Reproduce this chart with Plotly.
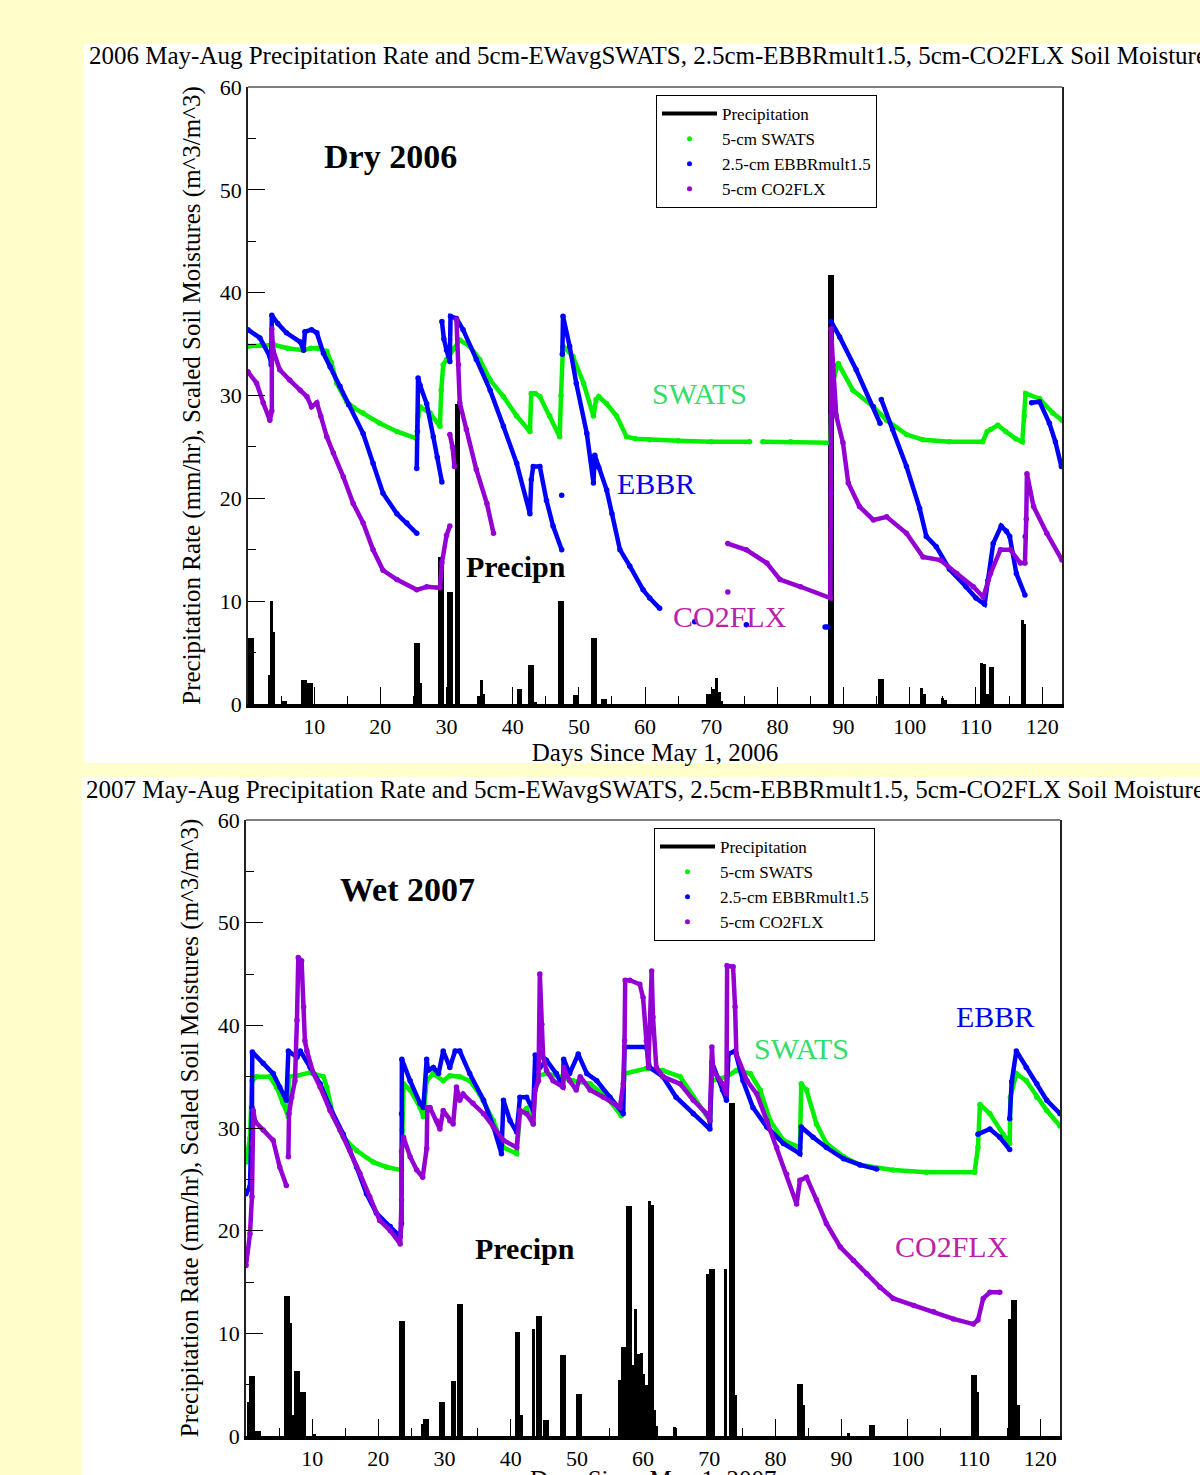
import plotly.graph_objects as go

FONT = "Liberation Serif"
YELLOW = "#FFFFCC"
GREEN = "#00F000"
BLUE = "#0000FF"
PURPLE = "#9400D3"
N = None

# ---------------- 2006 ----------------
sw06_day = [0, 2, 4, 6, 8.4, 9.5, 10.4, 11.9, 12.6, 13.4, 14.9, 16, 17.4, 19.9, 22.5, 25.5,
            25.7, 26.0, 27.5, 29.0, 29.2, 29.5, 30.0, 31, 32, 33.5, 35, 36.6, 38.6, 40.6, 42.6,
            42.8, 43.4, 44.1, 45.6, 47.1, 47.3, 47.6, 49.1, 50.7, 52.2, 52.6, 53, 54.2, 55.7,
            57.2, 58.5, 60.7, 65, 70, 75.8, N, 77.8, 82, 88, 88.2, 88.6, 89.2, 91.4, 94.5, 96.5,
            99.5, 102, 106, 111, 111.7, 112.2, 113.3, 114.5, 116, 117, 117.3, 117.5, 119.6,
            121.6, 123]
sw06_val = [34.8, 34.9, 34.9, 34.6, 34.4, 34.6, 34.6, 34.3, 33.2, 31.2, 29.4, 28.8, 28.3, 27.3,
            26.5, 25.8, 28.0, 28.9, 28.3, 27.0, 30.5, 33.0, 33.5, 34.5, 35.4, 34.8, 33.5, 31.5,
            29.9, 28.0, 26.5, 30.2, 30.2, 29.9, 28.0, 26.0, 30.0, 34.8, 33.8, 31.2, 28.0, 29.6,
            29.9, 29.2, 28.0, 26.0, 25.8, 25.7, 25.6, 25.5, 25.5, N, 25.5, 25.5, 25.4, 30.0, 32.0,
            33.1, 30.5, 28.9, 27.6, 26.2, 25.7, 25.5, 25.5, 26.5, 26.7, 27.1, 26.5, 25.8, 25.5,
            28.0, 30.2, 29.7, 28.3, 27.6]

eb06_day = [0, 1.8, 3.3, 3.5, 3.6, 4.5, 5.8, 7.9, 8.4, 8.6, 9.6, 10.4, 11.4, 12.4, 13.9, 15.2,
            17.4, 18.9, 20.4, 22.5, 24, 25.5, N, 25.5, 25.6, 25.7, 26, 27, 28, 28.6, 29.3, N,
            29.3, 29.6, 30, 30.5, 30.6, 31.5, 32.5, 34.5, 36.6, 38.6, 40.6, 42.6, 42.8, 43.1,
            44.1, 45.1, 46.1, 47.4, N, 47.4, N, 47.5, 47.6, 48.6, 49.6, 51.2, 52.2, 52.4, 53,
            54.2, 55, 56.2, 57.7, 59.7, 60.7, 62.2, N, 67.5, N, 75.3, N, 87.2, 87.6, N, 88.1, N,
            88.1, 89.4, 91.9, 94.5, 95.5, N, 95.7, 97.4, 99.5, 101.5, 102.5, 104, 106, 108.5,
            110, 111.3, 111.8, 112.6, 113.8, 114.6, 115.1, 116.1, 117.4, N, 117.45, N, 118.4,
            119.6, 121.1, 122, 122.9]
eb06_val = [36.4, 35.6, 33.8, 33.0, 37.8, 37.0, 36.1, 35.2, 34.4, 36.2, 36.4, 36.1, 34.1, 32.8,
            30.9, 29.1, 26.3, 23.4, 20.5, 18.5, 17.6, 16.6, N, 22.9, 26.5, 31.7, 31.0, 29.2, 26.0,
            24.0, 21.6, N, 37.2, 35.5, 34.4, 33.3, 37.7, 37.5, 36.4, 33.5, 30.5, 27.0, 23.4, 18.5,
            21.8, 23.1, 23.1, 19.8, 17.3, 15.0, N, 20.3, N, 34.0, 37.7, 34.8, 31.2, 26.3, 21.5,
            24.2, 23.0, 20.8, 18.5, 15.0, 13.4, 11.1, 10.3, 9.3, N, 8.0, N, 7.7, N, 7.5, 7.5, N,
            20.5, N, 37.2, 35.7, 32.5, 28.9, 27.3, N, 29.6, 26.7, 23.1, 19.0, 16.3, 15.3, 13.1,
            11.4, 10.3, 9.7, 12.0, 15.6, 17.3, 16.8, 16.3, 12.7, 10.6, N, 16.3, N, 29.3, 29.4,
            27.3, 25.5, 23.1]

co06_day = [0, 1.3, 2.3, 3.3, 3.6, 3.6, 3.8, 4.8, 6.3, 7.9, 8.9, 9.6, 10.4, 11.0, 11.9, 12.9,
            14.4, 15.9, 17.4, 18.9, 20.4, 22.5, 25.5, 27, 29, 29.3, 30, 30.5, N, 30.5, 30.9,
            31.2, N, 31.5, 31.8, 32, 33, 34.5, 36.1, 37.1, N, 72.5, N, 72.5, 75.3, 78.4, 80.4,
            83.5, 88, 88.1, 88.1, 88.4, 88.9, 89.9, 90.7, 92.4, 94.5, 96.5, 99.5, 102, 104.6,
            107.1, 109.6, 111.1, 112.2, 113.7, 115.2, 116.7, 117.4, 117.6, 117.7, 118.7, 120.7,
            123]
co06_val = [32.3, 31.2, 29.3, 27.6, 28.5, 36.5, 34.4, 32.5, 31.5, 30.5, 29.9, 28.9, 29.3, 28.0,
            26.0, 24.4, 22.1, 19.5, 17.6, 15.0, 13.0, 12.1, 11.1, 11.4, 11.3, 13.7, 16.4, 17.3,
            N, 26.2, 25.0, 23.1, N, 37.4, 33.0, 29.3, 26.7, 22.8, 19.5, 16.6, N, 10.9, N, 15.6,
            15.0, 13.7, 12.1, 11.4, 10.3, 28.0, 36.5, 33.0, 28.0, 25.4, 21.5, 19.2, 17.9, 18.2,
            16.6, 14.3, 14.0, 12.7, 11.4, 10.4, 12.7, 15.0, 15.0, 13.7, 13.7, 18.0, 22.4, 19.2,
            16.6, 14.0]

pr06_day = [0.2, 0.65, 3.2, 3.55, 3.9, 5.2, 5.65, 8.3, 8.75, 9.2, 9.65, 25.25, 25.7, 26.1,
            28.9, 29.35, 30.3, 30.75, 31.45, 31.85, 34.9, 35.3, 35.6, 40.8, 41.25, 42.5, 42.95,
            43.4, 47.1, 47.5, 49.35, 49.8, 52.1, 52.55, 53.6, 54.0, 69.5, 69.95, 70.4, 70.8,
            71.2, 71.6, 87.9, 88.35, 95.45, 95.9, 101.8, 102.2, 105.0, 105.4, 110.85, 111.25,
            111.7, 112.15, 112.55, 117.0, 117.4]
pr06_val = [6.4, 6.4, 2.8, 10.0, 7.0, 0.3, 0.3, 2.3, 2.3, 2.0, 2.0, 5.9, 5.9, 2.0, 14.3, 14.3,
            10.9, 10.9, 29.2, 29.2, 0.8, 2.3, 1.0, 1.5, 1.5, 3.8, 3.8, 0.2, 10.0, 10.0, 0.9, 0.9,
            6.4, 6.4, 0.5, 0.5, 1.0, 1.0, 1.5, 2.5, 1.2, 0.3, 41.7, 41.7, 2.4, 2.4, 1.6, 1.0, 0.6,
            0.4, 4.0, 3.9, 1.0, 3.6, 3.6, 8.2, 7.8]

# ---------------- 2007 ----------------
sw07_day = [0, 0.6, 0.9, 1.6, 3.6, 4.6, 5.6, 6.4, 6.45, 7.7, 9.7, 11.7, 12.2, 13.2, 14.7, 16.7,
            19.2, 21.2, 23.5, 23.6, 23.8, 24.8, 26.3, 26.8, 27.3, 28.3, 29.8, 30.8, 32.3, 33.8,
            35.3, 37.4, 38.9, 40.9, 41.4, 42.4, 43.4, 43.7, 45.4, 47.4, 49.4, 52.0, 54.5, 56.7,
            57.2, 60.5, 63, 65.6, 67.6, 70.1, 70.4, 72.6, 74.1, 76.2, 77.7, 79.2, 81.2, 83.7,
            83.9, 84.7, 86.2, 87.7, 90.3, 92.8, 97.8, 102.8, 110.1, 110.6, 110.9, 112.4, 114.4,
            115.4, 115.5, 116.4, 117.9, 119.5, 121, 123]
sw07_val = [26.7, 29.0, 34.6, 35.0, 35.0, 34.0, 32.4, 31.1, 35.0, 35.1, 35.4, 35.0, 34.0, 31.1,
            29.1, 27.8, 26.7, 26.2, 25.9, 29.8, 34.3, 33.7, 32.0, 31.1, 34.6, 35.3, 34.6, 35.1,
            35.0, 34.6, 33.3, 30.7, 28.1, 27.5, 31.4, 31.9, 30.4, 35.0, 35.3, 35.0, 34.6, 34.3,
            33.0, 31.2, 35.3, 35.8, 35.6, 35.0, 33.0, 30.7, 34.6, 35.0, 35.6, 35.3, 33.7, 30.7,
            28.8, 28.1, 34.3, 33.7, 30.4, 28.5, 27.2, 26.4, 25.9, 25.7, 25.7, 28.1, 32.3, 31.4,
            29.4, 28.5, 33.0, 35.3, 34.6, 33.0, 31.7, 30.2]

eb07_day = [0, 0.6, 0.9, 0.95, 2.6, 4.1, 5.1, 6.1, 6.4, 7.7, 8.2, 9.7, 11.2, 12.7, 14.7, 16.7,
            18.2, 19.7, 21.8, 23.3, 23.5, 23.5, 23.55, 24.8, 26.3, 26.8, 27.3, 27.5, 28.3, 29.1,
            29.8, 30.8, 31.6, 32.3, 33.8, 35.9, 37.4, 38.6, 38.9, 39.9, 40.9, 41.4, 42.4, 43.4,
            43.7, 44.4, 45.4, 46.9, 47.9, 48.0, 48.9, 50.2, 51.5, 53.0, 55.0, 57.0, 57.2, 60.5,
            61.0, 63.0, 65.0, 67.6, 70.1, 70.4, 72.0, 72.6, 72.9, 73.9, 75.1, 76.6, 78.7, 81.2,
            83.7, 83.9, 85.7, 87.7, 90.3, 92.8, 95.3, N, 110.6, 112.4, 113.9, 115.4, N, 115.4,
            115.7, 116.4, 117.9, 119.5, 121, 123]
eb07_val = [23.6, 24.3, 32.0, 37.4, 36.3, 35.3, 34.0, 32.7, 37.5, 36.9, 37.5, 35.9, 34.3, 32.0,
            29.4, 26.2, 23.6, 21.7, 20.4, 19.4, 20.7, 31.4, 36.7, 34.6, 32.4, 32.0, 36.7, 35.6,
            35.9, 35.3, 37.5, 35.9, 37.5, 37.5, 35.3, 32.7, 30.1, 27.5, 32.7, 30.7, 29.6, 33.0,
            33.0, 31.7, 37.1, 35.9, 36.6, 35.3, 34.0, 36.7, 35.3, 37.2, 35.3, 34.6, 33.0, 31.4,
            37.9, 37.9, 35.9, 35.0, 33.0, 31.4, 29.9, 36.4, 33.7, 32.7, 37.2, 37.5, 34.6, 32.0,
            30.1, 28.5, 27.5, 30.1, 29.1, 28.1, 27.0, 26.4, 26.0, N, 29.4, 29.9, 29.1, 27.9, N,
            30.9, 34.5, 37.5, 35.9, 34.3, 32.7, 31.4]

co07_day = [0, 0.6, 0.9, 0.95, 1.1, 1.4, 2.6, 4.1, 5.1, 6.1, N, 6.4, 6.5, 6.9, 7.4, 7.7, 7.9,
            8.4, 8.7, 8.9, 9.2, 10.2, 11.2, 12.7, 14.2, 15.7, 17.2, 18.7, 20.2, 21.8, 23.3, 23.5,
            23.5, 23.8, 24.8, 25.8, 26.7, 27.3, 27.4, 27.8, 28.8, 29.3, 29.8, 30.8, 31.3, 31.8,
            32.3, 32.8, 34.3, 35.9, 37.4, 38.9, 40.9, 41.4, 42.4, 43.4, 43.7, 44.2, 44.4, 44.7,
            44.9, 45.4, 46.4, 47.9, 48.0, 48.9, 49.9, 50.5, 52.0, 54.0, 56.5, 57.0, 57.2, 57.3,
            58.0, 59.5, 60.0, 60.5, 60.8, 61.3, 61.5, 62.0, 63.0, 65.6, 67.6, 69.6, 70.1, 70.4,
            70.6, 72.0, 72.6, 72.7, 73.6, 73.9, 74.1, 75.7, 77.2, 78.7, 80.2, 81.7, 83.2, 83.7,
            84.7, 86.2, 87.7, 89.8, 91.8, 93.8, 95.8, 97.8, 100.9, 103.9, 106.9, 109.9, 110.6,
            111.4, 112.4, 113.9]
co07_val = [16.6, 19.7, 23.3, 28.5, 31.7, 30.6, 29.8, 28.8, 26.2, 24.4, N, 27.2, 31.4, 33.0,
            34.6, 40.5, 46.6, 46.3, 41.8, 38.5, 37.5, 35.3, 34.0, 31.7, 29.8, 27.8, 25.6, 23.3,
            21.0, 20.0, 18.7, 23.0, 27.7, 29.1, 27.2, 25.9, 25.2, 28.0, 32.0, 32.0, 30.7, 29.9,
            31.7, 30.7, 30.4, 34.0, 32.7, 33.3, 32.4, 31.4, 30.1, 28.8, 28.1, 31.7, 31.4, 30.4,
            33.7, 34.6, 45.0, 40.1, 36.9, 35.6, 34.6, 34.0, 35.9, 34.6, 33.7, 35.0, 33.7, 33.0,
            32.0, 34.3, 38.5, 44.4, 44.4, 44.0, 42.7, 38.5, 35.9, 45.3, 40.8, 35.9, 35.0, 34.3,
            32.7, 31.4, 30.7, 37.9, 35.6, 34.3, 33.3, 45.8, 45.7, 41.8, 37.2, 34.6, 33.3, 30.7,
            28.1, 25.5, 22.6, 24.9, 25.2, 23.0, 20.7, 18.4, 17.1, 15.8, 14.5, 13.4, 12.7, 12.1,
            11.4, 10.9, 11.3, 13.4, 14.0, 14.0]

pr07_day = [0.35, 0.7, 1.1, 1.55, 2.0, 5.95, 6.35, 6.7, 7.05, 7.5, 7.95, 8.4, 8.8, 10.3, 23.35,
            23.8, 26.6, 27.0, 27.45, 29.45, 29.9, 31.15, 31.55, 32.05, 32.5, 40.85, 41.25, 41.6,
            43.5, 44.1, 44.55, 45.1, 45.5, 47.65, 48.1, 50.05, 50.5, 56.5, 56.9, 57.3, 57.7, 58.1,
            58.5, 58.9, 59.3, 59.7, 60.1, 60.5, 60.95, 61.35, 61.75, 62.1, 64.8, 69.8, 70.25,
            70.6, 72.4, 73.15, 73.6, 74.0, 83.45, 83.9, 84.2, 91.0, 94.4, 94.85, 109.8, 110.2,
            110.6, 115.4, 115.85, 116.3, 116.7]
pr07_val = [3.3, 5.8, 5.8, 0.5, 0.5, 13.6, 13.6, 11.0, 2.0, 6.3, 6.3, 4.3, 4.3, 0.2, 11.2, 11.2,
            1.2, 1.7, 1.7, 3.3, 3.3, 5.4, 5.4, 12.9, 12.9, 10.1, 10.1, 2.0, 10.4, 11.7, 11.7, 1.6,
            1.6, 7.9, 7.9, 4.1, 4.1, 5.5, 8.7, 8.7, 22.4, 22.4, 6.9, 12.4, 8.0, 8.1, 6.0, 5.0,
            22.9, 22.5, 2.5, 1.0, 0.9, 15.8, 16.3, 16.3, 16.3, 32.4, 32.4, 4.0, 5.1, 5.1, 3.0,
            0.3, 1.1, 1.1, 5.9, 5.9, 4.3, 11.4, 13.2, 13.2, 3.0]

x_ticks = [10, 20, 30, 40, 50, 60, 70, 80, 90, 100, 110, 120]
x_minor = [5, 15, 25, 35, 45, 55, 65, 75, 85, 95, 105, 115]

fig = go.Figure()


def add_panel(pr_d, pr_v, sw_d, sw_v, eb_d, eb_v, co_d, co_v, xa, ya, leg):
    fig.add_trace(go.Bar(x=pr_d, y=pr_v, width=0.45, marker=dict(color="black", line=dict(width=0)),
                         xaxis=xa, yaxis=ya, showlegend=False, hoverinfo="skip"))
    for d, v, c in ((sw_d, sw_v, GREEN), (eb_d, eb_v, BLUE), (co_d, co_v, PURPLE)):
        fig.add_trace(go.Scatter(x=d, y=v, mode="lines+markers", line=dict(color=c, width=4.5),
                                 marker=dict(color=c, size=5.5), xaxis=xa, yaxis=ya,
                                 showlegend=False, hoverinfo="skip"))
    # legend entries
    fig.add_trace(go.Scatter(x=[N], y=[N], mode="lines", line=dict(color="black", width=4),
                             name="Precipitation", xaxis=xa, yaxis=ya, legend=leg))
    for name, c in (("5-cm SWATS", GREEN), ("2.5-cm EBBRmult1.5", BLUE), ("5-cm CO2FLX", PURPLE)):
        fig.add_trace(go.Scatter(x=[N], y=[N], mode="markers", marker=dict(color=c, size=5),
                                 name=name, xaxis=xa, yaxis=ya, legend=leg))


add_panel(pr06_day, pr06_val, sw06_day, sw06_val, eb06_day, eb06_val, co06_day, co06_val,
          "x", "y", "legend")
add_panel(pr07_day, pr07_val, sw07_day, sw07_val, eb07_day, eb07_val, co07_day, co07_val,
          "x2", "y2", "legend2")

W, H = 1200, 1475
tickfont = dict(family=FONT, size=22, color="black")
ytitle = "Precipitation Rate (mm/hr), Scaled Soil Moistures (m^3/m^3)"


def xaxis(domain, title):
    return dict(domain=domain, range=[0, 123], showline=True, linewidth=3.5, linecolor="black",
                automargin=False,
                ticks="inside", ticklen=17, tickwidth=1.2, tickcolor="black", tickmode="array",
                tickvals=x_ticks, minor=dict(tickmode="array", tickvals=x_minor, ticks="inside",
                                             ticklen=8, tickwidth=1.2, tickcolor="black"),
                showgrid=False, zeroline=False, tickfont=tickfont,
                title=dict(text=title, font=dict(family=FONT, size=25, color="black"), standoff=2))


def yaxis(domain):
    return dict(domain=domain, range=[0, 60], showline=True, linewidth=1.5, linecolor="#222",
                automargin=False,
                mirror=True, ticks="inside", ticklen=17, tickwidth=1.2, tickcolor="black",
                tick0=0, dtick=10, minor=dict(dtick=5, ticks="inside", ticklen=8, tickwidth=1.2,
                                              tickcolor="black"),
                showgrid=False, zeroline=False, tickfont=tickfont,
                title=dict(text=ytitle, font=dict(family=FONT, size=25, color="black"), standoff=12))


def lgd(x, y):
    return dict(x=x, y=y, xanchor="left", yanchor="top", bgcolor="white", bordercolor="black",
                borderwidth=1, font=dict(family=FONT, size=17, color="black"), itemwidth=55,
                tracegroupgap=0, traceorder="normal")


fig.update_layout(
    template="none",
    width=W, height=H, autosize=False,
    margin=dict(l=0, r=0, t=0, b=0, pad=0, autoexpand=False),
    paper_bgcolor=YELLOW, plot_bgcolor="white", barmode="overlay", bargap=0,
    font=dict(family=FONT, color="black"),
    xaxis=xaxis([248 / W, 1062 / W], "Days Since May 1, 2006"),
    yaxis=yaxis([1 - 704 / H, 1 - 87 / H]),
    # the 2007 axis title sits partly below the page edge, as in the reference: drawn as an annotation
    xaxis2=dict(xaxis([246 / W, 1060 / W], ""), anchor="y2"),
    yaxis2=dict(yaxis([1 - 1436 / H, 1 - 820 / H]), anchor="x2"),
    legend=lgd(656 / W, 1 - 95 / H),
    legend2=lgd(654 / W, 1 - 828 / H),
    shapes=[
        dict(type="rect", xref="paper", yref="paper", x0=84 / W, x1=1, y0=1 - 763 / H,
             y1=1 - 44 / H, fillcolor="white", line=dict(width=0), layer="below"),
        dict(type="rect", xref="paper", yref="paper", x0=82 / W, x1=1, y0=0,
             y1=1 - 777 / H, fillcolor="white", line=dict(width=0), layer="below"),
        dict(type="line", xref="x domain", yref="y domain", x0=0, x1=1, y0=1, y1=1,
             line=dict(color="#555", width=1.5)),
        dict(type="line", xref="x2 domain", yref="y2 domain", x0=0, x1=1, y0=1, y1=1,
             line=dict(color="#555", width=1.5)),
    ],
)

fig.add_annotation(text="Days Since May 1, 2007", x=0.5, y=1 - 1464 / H, xref="x2 domain",
                   yref="paper", xanchor="center", yanchor="top", showarrow=False,
                   font=dict(family=FONT, size=25, color="black"))

titles = [
    ("2006 May-Aug Precipitation Rate and 5cm-EWavgSWATS, 2.5cm-EBBRmult1.5, 5cm-CO2FLX Soil Moisture",
     87 / W, 1 - 56 / H),
    ("2007 May-Aug Precipitation Rate and 5cm-EWavgSWATS, 2.5cm-EBBRmult1.5, 5cm-CO2FLX Soil Moisture",
     84 / W, 1 - 789 / H),
]
for t, x, y in titles:
    fig.add_annotation(text=t, x=x, y=y, xref="paper", yref="paper", xanchor="left",
                       yanchor="middle", showarrow=False,
                       font=dict(family=FONT, size=25, color="black"))

labels = [
    ("<b>Dry 2006</b>", 21.6, 53.2, "black", 34, "x", "y"),
    ("SWATS", 68.2, 30.2, "#33DD66", 30, "x", "y"),
    ("EBBR", 61.7, 21.4, "#0000EE", 30, "x", "y"),
    ("<b>Precipn</b>", 40.5, 13.4, "black", 30, "x", "y"),
    ("CO2FLX", 72.8, 8.5, "#BB22AA", 30, "x", "y"),
    ("<b>Wet 2007</b>", 24.4, 53.2, "black", 34, "x2", "y2"),
    ("SWATS", 84.0, 37.7, "#33DD66", 30, "x2", "y2"),
    ("EBBR", 113.2, 40.9, "#0000EE", 30, "x2", "y2"),
    ("<b>Precipn</b>", 42.2, 18.3, "black", 30, "x2", "y2"),
    ("CO2FLX", 106.7, 18.5, "#BB22AA", 30, "x2", "y2"),
]
for t, x, y, c, s, xr, yr in labels:
    fig.add_annotation(text=t, x=x, y=y, xref=xr, yref=yr, showarrow=False,
                       font=dict(family=FONT, size=s, color=c))

fig.write_html(
    "out.html",
    config={"displayModeBar": False},
    post_script="document.body.style.margin='0px';document.body.style.padding='0px';"
                "document.body.style.background='#FFFFCC';"
                "document.documentElement.style.overflow='hidden';",
)
